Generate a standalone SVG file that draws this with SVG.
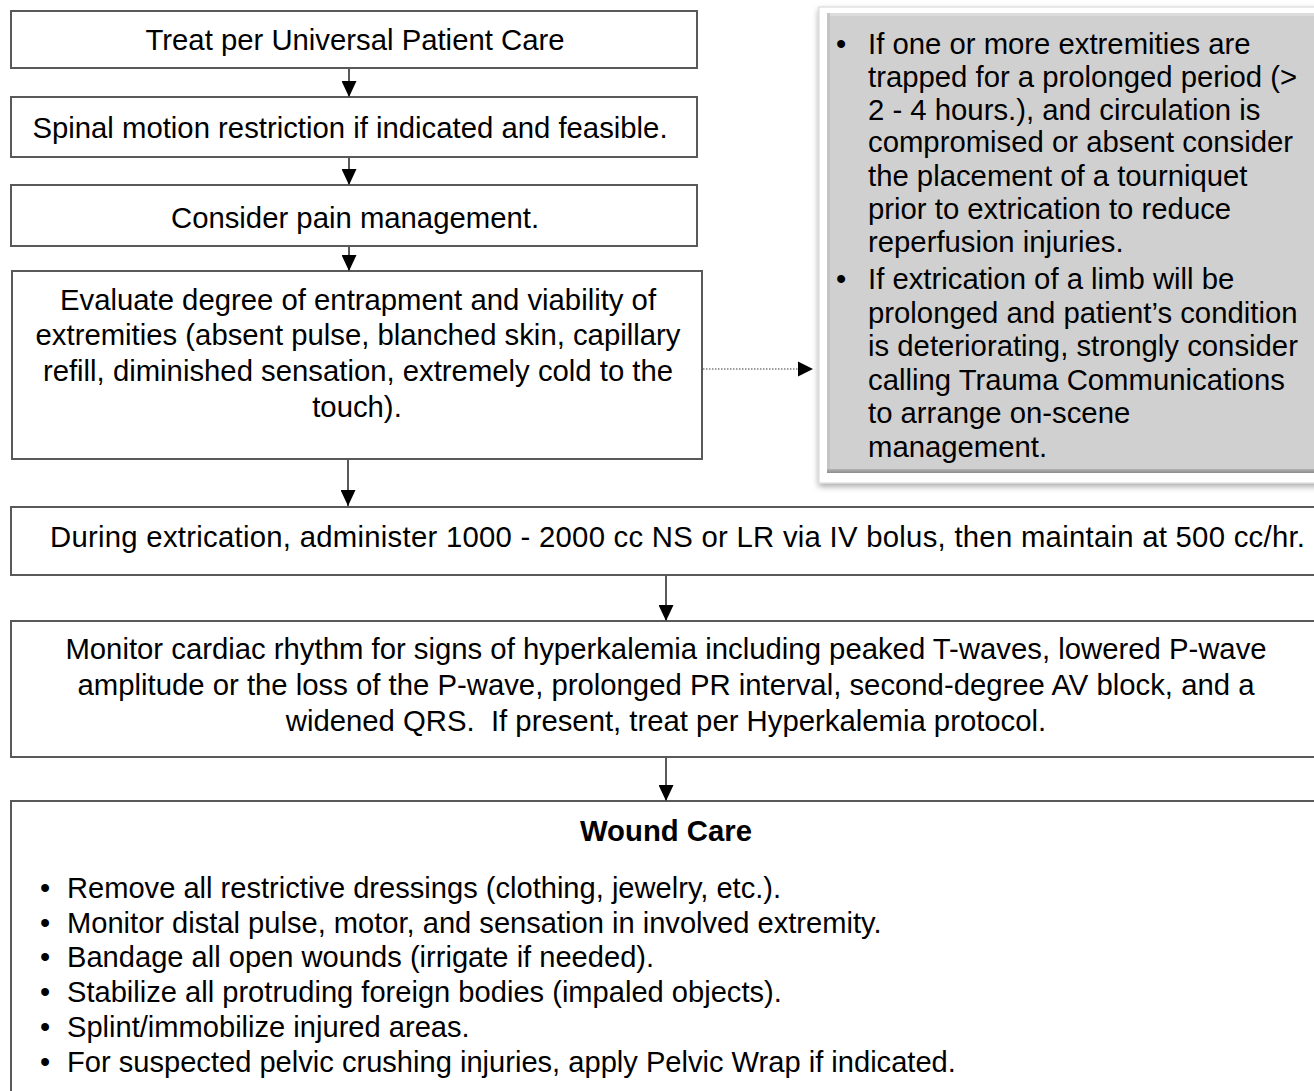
<svg xmlns="http://www.w3.org/2000/svg" width="1314" height="1091" viewBox="0 0 1314 1091">
  <style>
    .box { fill: #ffffff; stroke: #595959; stroke-width: 2; }
    .t { font-family: "Liberation Sans", Arial, sans-serif; font-size: 29.3px; fill: #000000; }
    .s { font-size: 29.1px; }
    .c { text-anchor: middle; }
    .b { font-weight: bold; }
    .link { stroke: #595959; stroke-width: 2; fill: none; }
    .dot { stroke: #7f7f7f; stroke-width: 1.5; stroke-dasharray: 1.5 1.5; fill: none; }
  </style>
  <defs>
    <marker id="head" viewBox="0 0 16 15" refX="16" refY="7.5" markerWidth="16" markerHeight="15" markerUnits="userSpaceOnUse" orient="auto">
      <path d="M0,0 L16,7.5 L0,15 Z" fill="#000000"/>
    </marker>
    <filter id="shadow" x="-10%" y="-10%" width="120%" height="120%">
      <feGaussianBlur in="SourceAlpha" stdDeviation="3"/>
      <feOffset dx="0" dy="3" result="b"/>
      <feComponentTransfer><feFuncA type="linear" slope="0.35"/></feComponentTransfer>
      <feMerge><feMergeNode/><feMergeNode in="SourceGraphic"/></feMerge>
    </filter>
    <linearGradient id="bevelBottom" x1="0" y1="0" x2="0" y2="1">
      <stop offset="0" stop-color="#b4b4b4"/>
      <stop offset="1" stop-color="#8c8c8c"/>
    </linearGradient>
  </defs>

  <!-- flow steps -->
  <g id="n1">
    <rect class="box" x="11" y="11" width="686" height="57"/>
    <text class="t c" x="355" y="50">Treat per Universal Patient Care</text>
  </g>
  <g id="n2">
    <rect class="box" x="11" y="97" width="686" height="60"/>
    <text class="t c" x="350" y="138">Spinal motion restriction if indicated and feasible.</text>
  </g>
  <g id="n3">
    <rect class="box" x="11" y="185" width="686" height="61"/>
    <text class="t c" x="355" y="228">Consider pain management.</text>
  </g>
  <g id="n4">
    <rect class="box" x="12" y="271" width="690" height="188"/>
    <text class="t c" x="358" y="310">Evaluate degree of entrapment and viability of</text>
    <text class="t c" x="358" y="345">extremities (absent pulse, blanched skin, capillary</text>
    <text class="t c" x="358" y="381">refill, diminished sensation, extremely cold to the</text>
    <text class="t c" x="357" y="417">touch).</text>
  </g>

  <!-- side note -->
  <g id="note">
    <rect x="819" y="7" width="520" height="476" fill="#ffffff" stroke="#d4d4d4" stroke-width="1" filter="url(#shadow)"/>
    <rect x="827" y="13" width="510" height="460" fill="#d0d0d0"/>
    <rect x="827" y="13" width="510" height="3" fill="#dcdcdc"/>
    <rect x="827" y="13" width="3" height="460" fill="#c4c4c4"/>
    <rect x="827" y="469" width="510" height="4" fill="url(#bevelBottom)"/>
    <text class="t" x="836" y="54">•</text>
    <text class="t" x="868" y="54">If one or more extremities are</text>
    <text class="t" x="868" y="87">trapped for a prolonged period (&gt;</text>
    <text class="t" x="868" y="120">2 - 4 hours.), and circulation is</text>
    <text class="t" x="868" y="152">compromised or absent consider</text>
    <text class="t" x="868" y="186">the placement of a tourniquet</text>
    <text class="t" x="868" y="219">prior to extrication to reduce</text>
    <text class="t" x="868" y="252">reperfusion injuries.</text>
    <text class="t" x="836" y="289">•</text>
    <text class="t" x="868" y="289">If extrication of a limb will be</text>
    <text class="t" x="868" y="323">prolonged and patient’s condition</text>
    <text class="t" x="868" y="356">is deteriorating, strongly consider</text>
    <text class="t" x="868" y="390">calling Trauma Communications</text>
    <text class="t" x="868" y="423">to arrange on-scene</text>
    <text class="t" x="868" y="457">management.</text>
  </g>

  <g id="n5">
    <rect class="box" x="11" y="507" width="1310" height="68"/>
    <text class="t" x="50" y="547" textLength="1255" lengthAdjust="spacing">During extrication, administer 1000 - 2000 cc NS or LR via IV bolus, then maintain at 500 cc/hr.</text>
  </g>
  <g id="n6">
    <rect class="box" x="11" y="621" width="1310" height="136"/>
    <text class="t c" x="666" y="659">Monitor cardiac rhythm for signs of hyperkalemia including peaked T-waves, lowered P-wave</text>
    <text class="t c" x="666" y="695">amplitude or the loss of the P-wave, prolonged PR interval, second-degree AV block, and a</text>
    <text class="t c" x="666" y="731">widened QRS.&#160; If present, treat per Hyperkalemia protocol.</text>
  </g>
  <g id="n7">
    <rect class="box" x="11" y="801" width="1310" height="300"/>
    <text class="t c b" x="666" y="841">Wound Care</text>
    <text class="t s" x="40" y="898">•</text>
    <text class="t s" x="67" y="898">Remove all restrictive dressings (clothing, jewelry, etc.).</text>
    <text class="t s" x="40" y="933">•</text>
    <text class="t s" x="67" y="933">Monitor distal pulse, motor, and sensation in involved extremity.</text>
    <text class="t s" x="40" y="967">•</text>
    <text class="t s" x="67" y="967">Bandage all open wounds (irrigate if needed).</text>
    <text class="t s" x="40" y="1002">•</text>
    <text class="t s" x="67" y="1002">Stabilize all protruding foreign bodies (impaled objects).</text>
    <text class="t s" x="40" y="1037">•</text>
    <text class="t s" x="67" y="1037">Splint/immobilize injured areas.</text>
    <text class="t s" x="40" y="1072">•</text>
    <text class="t s" x="67" y="1072">For suspected pelvic crushing injuries, apply Pelvic Wrap if indicated.</text>
  </g>

  <!-- connectors -->
  <g id="connectors">
    <line class="link" x1="349" y1="68" x2="349" y2="97" marker-end="url(#head)"/>
    <line class="link" x1="349" y1="157" x2="349" y2="185" marker-end="url(#head)"/>
    <line class="link" x1="349" y1="246" x2="349" y2="271" marker-end="url(#head)"/>
    <line class="link" x1="348" y1="459" x2="348" y2="506" marker-end="url(#head)"/>
    <line class="link" x1="666" y1="575" x2="666" y2="621" marker-end="url(#head)"/>
    <line class="link" x1="666" y1="757" x2="666" y2="801" marker-end="url(#head)"/>
    <line class="dot" x1="703" y1="369" x2="800" y2="369"/>
    <path d="M798,361.5 L813,369 L798,376.5 Z" fill="#000000"/>
  </g>
</svg>
